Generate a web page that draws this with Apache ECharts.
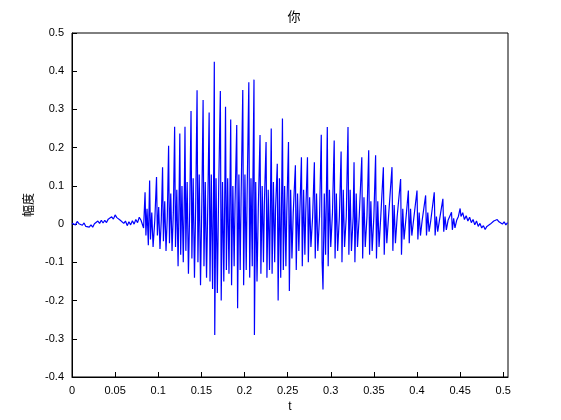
<!DOCTYPE html>
<html><head><meta charset="utf-8">
<script src="https://cdn.jsdelivr.net/npm/echarts@6/dist/echarts.min.js"></script>
<style>html,body{margin:0;background:#fff}#c{width:561px;height:420px}</style>
</head><body><div id="c"></div>
<script>
const titleText = '你';
const xName = 't';
const yName = '幅度';
// waveform samples: [t, amplitude]
const quietStart = [[0,0.002],[0.002,0.006],[0.004,-0.002],[0.006,0.007],[0.008,0.001],[0.010,0.006],[0.012,-0.003],[0.014,0.003],[0.016,-0.006],[0.018,-0.001],[0.020,-0.008],[0.022,-0.002],[0.024,-0.008],[0.026,0.001],[0.028,-0.003],[0.030,0.008],[0.032,0.002],[0.034,0.010],[0.036,0.003],[0.038,0.010],[0.040,0.004],[0.042,0.013],[0.044,0.008],[0.046,0.019],[0.048,0.013],[0.050,0.024],[0.052,0.017],[0.054,0.020],[0.056,0.010],[0.058,0.013],[0.060,0.002],[0.062,0.008],[0.064,-0.004],[0.066,0.006],[0.068,-0.002],[0.070,0.009],[0.072,0.000],[0.074,0.012],[0.076,0.004],[0.078,0.018],[0.080,0.010],[0.082,0.014],[0.083,-0.010]];
const voiced = [
[0.0847,0.083],[0.0857,-0.030],[0.087,0.040],[0.0885,-0.055],[0.090,0.114],[0.091,-0.040],[0.0925,0.030],[0.094,-0.060],[0.096,0.010],
[0.098,0.123],[0.099,-0.030],[0.1005,0.045],[0.102,-0.065],[0.1035,0.010],
[0.105,0.149],[0.106,-0.045],[0.1075,0.060],[0.109,-0.070],[0.1105,0.020],
[0.112,0.205],[0.113,-0.050],[0.1145,0.080],[0.116,-0.070],[0.1175,0.030],
[0.119,0.255],[0.120,-0.060],[0.1215,0.090],[0.123,-0.110],[0.124,0.040],
[0.125,0.237],[0.126,-0.080],[0.1275,0.100],[0.129,-0.100],[0.130,0.030],
[0.131,0.255],[0.132,-0.070],[0.1335,0.110],[0.135,-0.130],[0.1365,0.040],
[0.138,0.296],[0.139,-0.090],[0.1405,0.120],[0.142,-0.140],[0.1435,0.060],
[0.145,0.350],[0.146,-0.100],[0.1475,0.130],[0.149,-0.160],[0.1505,0.050],
[0.152,0.325],[0.153,-0.110],[0.1545,0.110],[0.156,-0.140],[0.1575,0.060],
[0.159,0.292],[0.160,-0.150],[0.1615,0.130],[0.163,-0.170],[0.164,0.050],
[0.165,0.425],[0.1655,-0.290],[0.167,0.120],[0.1685,-0.180],[0.170,0.080],
[0.172,0.348],[0.173,-0.200],[0.1745,0.110],[0.176,-0.150],[0.177,0.050],
[0.178,0.307],[0.179,-0.120],[0.1805,0.120],[0.182,-0.130],[0.183,0.060],
[0.184,0.274],[0.185,-0.160],[0.1865,0.100],[0.188,-0.110],[0.189,0.050],
[0.191,0.259],[0.192,-0.220],[0.1935,0.130],[0.195,-0.120],[0.196,0.060],
[0.198,0.351],[0.199,-0.160],[0.2005,0.130],[0.202,-0.120],[0.203,0.070],
[0.205,0.371],[0.206,-0.140],[0.2075,0.120],[0.209,-0.110],[0.2095,0.060],
[0.211,0.378],[0.2115,-0.290],[0.213,0.110],[0.2145,-0.150],[0.216,0.040],
[0.218,0.233],[0.219,-0.130],[0.2205,0.100],[0.222,-0.100],[0.223,0.050],
[0.225,0.215],[0.226,-0.140],[0.2275,0.090],[0.229,-0.120],[0.230,0.040],
[0.231,0.250],[0.232,-0.130],[0.2335,0.110],[0.235,-0.100],[0.236,0.040],
[0.238,0.158],[0.239,-0.200],[0.2405,0.120],[0.242,-0.140],[0.243,0.060],
[0.244,0.276],[0.245,-0.120],[0.2465,0.100],[0.248,-0.110],[0.249,0.030],
[0.251,0.215],[0.252,-0.175],[0.2535,0.090],[0.255,-0.090],[0.2565,0.030],
[0.259,0.154],[0.260,-0.120],[0.2615,0.080],[0.263,-0.070],[0.264,0.020],
[0.266,0.175],[0.267,-0.110],[0.2685,0.090],[0.270,-0.080],[0.271,0.030],
[0.273,0.175],[0.274,-0.100],[0.2755,0.070],[0.277,-0.060],[0.279,0.020],
[0.281,0.162],[0.282,-0.090],[0.2835,0.080],[0.285,-0.070],[0.287,0.020],
[0.289,0.234],[0.290,-0.100],[0.291,-0.171],[0.2925,0.080],[0.294,-0.080],
[0.296,0.254],[0.297,-0.110],[0.2985,0.090],[0.300,-0.060],[0.302,0.030],
[0.304,0.219],[0.305,-0.090],[0.3065,0.080],[0.308,-0.070],[0.310,0.020],
[0.312,0.190],[0.313,-0.100],[0.3145,0.090],[0.316,-0.060],[0.318,0.020],
[0.320,0.254],[0.321,-0.080],[0.3225,0.090],[0.324,-0.070],[0.326,0.020],
[0.327,0.162],[0.328,-0.100],[0.3295,0.080],[0.331,-0.060],[0.333,0.020],
[0.336,0.175],[0.337,-0.090],[0.3385,0.070],[0.340,-0.060],[0.342,0.020],
[0.344,0.193],[0.345,-0.080],[0.3465,0.060],[0.348,-0.070],[0.350,0.020],
[0.352,0.180],[0.353,-0.090],[0.3545,0.060],[0.356,-0.060],[0.358,0.020],
[0.361,0.149],[0.362,-0.080],[0.3635,0.050],[0.365,-0.050],[0.367,0.020],
[0.371,0.149],[0.372,-0.070],[0.3735,0.050],[0.375,-0.050],[0.377,0.020],
[0.381,0.118],[0.382,-0.080],[0.3835,0.040],[0.385,-0.040],[0.387,0.010],
[0.390,0.088],[0.391,-0.050],[0.3925,0.040],[0.394,-0.030],[0.396,0.010],
[0.400,0.088],[0.401,-0.040],[0.4025,0.030],[0.404,-0.030],[0.406,0.010],
[0.410,0.075],[0.411,-0.030],[0.4125,0.030],[0.414,-0.020],[0.416,0.010],
[0.420,0.083],[0.421,-0.030],[0.4225,0.020],[0.424,-0.020],[0.426,0.010],
[0.430,0.066],[0.431,-0.020],[0.4325,0.020],[0.434,-0.015],[0.436,0.010],
[0.440,0.031],[0.441,-0.015],[0.4425,0.015],[0.444,-0.010],[0.446,0.010]];
const quietEnd = [[0.448,0.020],[0.450,0.041],[0.451,0.020],[0.453,0.030],[0.455,0.012],[0.457,0.022],[0.459,0.008],[0.461,0.018],[0.463,0.004],[0.465,0.012],[0.467,-0.002],[0.469,0.008],[0.471,-0.006],[0.473,0.002],[0.475,-0.010],[0.477,-0.004],[0.479,-0.014],[0.481,-0.006],[0.483,-0.010],[0.485,0.000],[0.487,-0.002],[0.489,0.008],[0.491,0.004],[0.493,0.012],[0.495,0.006],[0.497,0.010],[0.499,0.000],[0.501,0.006],[0.503,-0.002],[0.505,0.004]];
const yMin = -0.4, yMax = 0.5, yStep = 0.1;
const xMin = 0, xMax = 0.5055, xStep = 0.05;

const font = 'Liberation Sans, Arial, sans-serif';
const chart = echarts.init(document.getElementById('c'));
const axisCommon = {
  axisLine:{onZero:false,lineStyle:{color:'#000',width:1}},
  axisTick:{inside:true,length:5,lineStyle:{color:'#000'}},
  axisLabel:{color:'#000',fontSize:11,fontFamily:font},
  splitLine:{show:false}
};
chart.setOption({
  animation:false,
  title:{text:titleText,left:289,top:5,textAlign:'center',textStyle:{fontSize:13,fontWeight:'normal',color:'#000',fontFamily:'Noto Sans CJK SC'}},
  grid:{left:72,right:53,top:33,bottom:43,show:true,borderColor:'#000',borderWidth:1},
  xAxis:Object.assign({type:'value',min:xMin,max:xMax,interval:xStep,name:xName,nameLocation:'middle',nameGap:20,
    nameTextStyle:{color:'#000',fontSize:12,fontFamily:font}},axisCommon,
    {axisLabel:Object.assign({},axisCommon.axisLabel,{showMaxLabel:false,formatter:v=>String(+v.toFixed(2))})}),
  yAxis:Object.assign({type:'value',min:yMin,max:yMax,interval:yStep,name:yName,nameLocation:'middle',nameGap:36,
    nameTextStyle:{color:'#000',fontSize:12,fontFamily:'Noto Sans CJK SC'}},axisCommon,
    {axisLabel:Object.assign({},axisCommon.axisLabel,{formatter:v=>String(+v.toFixed(1))})}),
  series:[{type:'line',data:quietStart.concat(voiced,quietEnd),showSymbol:false,lineStyle:{color:'#0000ff',width:1.2}}]
});
</script></body></html>
